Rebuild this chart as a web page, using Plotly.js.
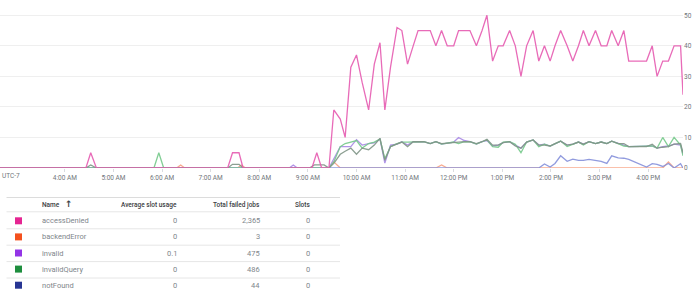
<!DOCTYPE html>
<html><head><meta charset="utf-8">
<script src="https://cdn.plot.ly/plotly-3.0.1.min.js"></script>
<style>html,body{margin:0;padding:0;background:#fff;}#chart{width:700px;height:295px;}</style>
</head><body><div id="chart"></div>
<script>
const DAY = '2024-01-01 ';

// shared sampling times for the busy part of the day (local time, UTC-7)
const gridTimes = ['9:26','9:32','9:40','9:46','9:53','10:00','10:07','10:15','10:22','10:29','10:35','10:42','10:50','10:56','11:03','11:10','11:16','11:23','11:31','11:38','11:45','11:52','12:00','12:06','12:13','12:20','12:28','12:35','12:41','12:48','12:55','13:01','13:09','13:16','13:23','13:30','13:38','13:45','13:52','13:59','14:05','14:12','14:20','14:27','14:34','14:40','14:47','14:55','15:02','15:09','15:15','15:23','15:30','15:36','15:43','15:50','15:58','16:05','16:11','16:18','16:25','16:32','16:40','16:43'];

// accessDenied
const accessDeniedEarlyT = ['2:40','4:26','4:32','4:39','7:21','7:27','7:35','7:40','9:05','9:11','9:17'];
const accessDeniedEarlyV = [0,0,5,0,0,5,5,0,0,5,0];
const accessDeniedLate = [0,19,16,10,33,37,28,19,34,41,19,33,46,45,34,40,45,45,45,40,45,40,40,45,45,45,40,45,50,35,40,40,45,40,30,40,45,35,40,35,40,45,40,35,40,45,40,45,40,40,45,40,45,35,35,35,35,40,30,35,35,40,40,24];

// backendError
const backendErrorEarlyT = ['2:40','6:18','6:23','6:28','7:33','7:38','7:43'];
const backendErrorEarlyV = [0,0,1,0,0,1,0];
const backendErrorLate = [0,2,0,0,0,0,0,0,0,0,0,0,0,0,0,0,0,0,0,0,1,0,0,0,0,0,0,0,0,0,0,0,0,0,0,0,0,0,0,0,0,0,0,0,0,0,0,0,0,0,0,0,0,0,0,0,0,0,0,0,2,0,0,0];

// invalid
const invalidEarlyT = ['2:40','8:37','8:42','8:47'];
const invalidEarlyV = [0,0,1,0];
const invalidLate = [0,3,7,7,7,9.3,7.5,8,8.2,9.5,1.6,7.5,7.8,8.6,7.5,8.6,8.6,8.6,8,8.6,7.8,8.2,8.5,10,9,8.6,7.8,8.6,9,7.2,7.5,8.3,8.6,7.5,6.5,8.5,9.2,7.5,7.8,7.2,8,8.8,7.5,7.8,8.5,7.8,8.6,8,8.5,8,8.8,8,7.5,7,7,7,7,7.2,6.5,7,7.2,7.8,7.5,4.5];

// invalidQuery
const invalidQueryEarlyT = ['2:40','5:50','5:56','6:02'];
const invalidQueryEarlyV = [0,0,5,0];
const invalidQueryLate = [0,2,7,8,8.5,9,6.5,8,8.5,9.5,3,7,8,8.5,8.5,8.6,8.6,8.6,8,8.6,7.8,8.2,8.5,8,8.6,8.6,7.8,8.6,9.2,7,6.8,8.5,8.6,7.8,5,8.5,9.2,7,7.8,7.2,8,8.8,7,7.8,8.5,7.5,8.6,8,8.5,8,8.8,8,7.2,7,7,7,7,7.2,6.5,10,7,10,7.5,4];

// notFound
const notFoundEarlyT = ['2:40'];
const notFoundEarlyV = [0];
const notFoundLate = [0,0,0,0,0,0,0,0,0,0,0,0,0,0,0,0,0,0,0,0,0,0,0,0,0,0,0,0,0,0,0,0,0,0,0,0,0,0,1.3,0.3,1.5,4,2.2,2.9,2.5,2.5,2.8,2.5,2.2,1.5,4,3.3,3.2,2.8,2,1,0.3,1.4,1.2,0.5,1.5,0,1.4,0];

// other (grey, row not visible in table)
const otherEarlyT = ['2:40','4:26','4:32','4:39','7:21','7:27','7:35','7:40','9:02','9:08','9:20','9:26'];
const otherEarlyV = [0,0,1,0,0,1.2,1.2,0,0,1,1,0];
const otherLate = [0,1.5,4.5,5.5,6.5,4.5,6.5,6,7.5,9.7,2.5,7,8,8.5,7,8.6,8.6,8.6,8,8.6,8,8.2,8.5,8.5,8.6,8.6,8,8.6,9.4,7.5,7.5,8.3,8.6,7.2,6.5,8.5,9.2,7.5,7.5,7.2,8,8.8,7.5,7.8,8.5,7.8,8.6,8,8.5,8,8.8,8,8,7,7,7,7,7.8,6.5,6.8,7,7.8,8,5];

// axis ticks
const hourTicks = ['4:00','5:00','6:00','7:00','8:00','9:00','10:00','11:00','12:00','13:00','14:00','15:00','16:00'];
const hourLabels = ['4:00 AM','5:00 AM','6:00 AM','7:00 AM','8:00 AM','9:00 AM','10:00 AM','11:00 AM','12:00 PM','1:00 PM','2:00 PM','3:00 PM','4:00 PM'];
const yTicks = [0,10,20,30,40,50];
const timezoneLabel = 'UTC-7';

// table
const tableHeaders = ['Name', 'Average slot usage', 'Total failed jobs', 'Slots'];
const tableNames = ['accessDenied','backendError','invalid','invalidQuery','notFound'];
const tableAvgSlot = ['0','0','0.1','0','0'];
const tableFailed = ['2,365','3','475','486','44'];
const tableSlots = ['0','0','0','0','0'];

// styles
const swatchColors = ['#e52592','#f4511e','#9334e6','#1e8e3e','#283593'];
const lineColors = {accessDenied:'#e55bb0', backendError:'#f7a284', invalid:'#a888e6', invalidQuery:'#74c98a', notFound:'#8590da', other:'#7f9586'};

function toDate(hm){ const p = hm.split(':'); return DAY + (p[0].length<2?'0':'') + p[0] + ':' + p[1] + ':00'; }
function series(name, eT, eV, late, color){
  return {type:'scatter', mode:'lines', name:name,
    x: eT.concat(gridTimes).map(toDate), y: eV.concat(late),
    line:{color:color, width:1.3, shape:'linear'}, opacity:0.9, hoverinfo:'skip', showlegend:false};
}

const traces = [
  series('backendError', backendErrorEarlyT, backendErrorEarlyV, backendErrorLate, lineColors.backendError),
  series('notFound', notFoundEarlyT, notFoundEarlyV, notFoundLate, lineColors.notFound),
  series('invalid', invalidEarlyT, invalidEarlyV, invalidLate, lineColors.invalid),
  series('invalidQuery', invalidQueryEarlyT, invalidQueryEarlyV, invalidQueryLate, lineColors.invalidQuery),
  series('other', otherEarlyT, otherEarlyV, otherLate, lineColors.other),
  series('accessDenied', accessDeniedEarlyT, accessDeniedEarlyV, accessDeniedLate, lineColors.accessDenied)
];

// layout geometry (pixels)
const W = 700, H = 295, ML = 0, MR = 17, MT = 0, MB = 127;
const PW = W - ML - MR, PH = H - MT - MB;
const xp = px => (px - ML) / PW;
const yp = py => (MT + PH - py) / PH;

const shapes = [];
const annotations = [];
const FONT = 'Roboto, Arial, sans-serif';

annotations.push({xref:'paper', yref:'paper', x:xp(11), y:yp(175.5), text:timezoneLabel, showarrow:false,
  xanchor:'center', yanchor:'middle', font:{family:FONT, size:6.5, color:'#70757a'}});

// table lines
const lineYs = [197.5, 211.8, 228.8, 245.2, 261.6, 278];
lineYs.forEach((y,i) => shapes.push({type:'line', xref:'paper', yref:'paper', x0:xp(6.5), x1:xp(340), y0:yp(y), y1:yp(y),
  line:{color: i===0 ? '#dcdcdc' : '#e6e6e6', width:1}}));

// header
const headerY = 205;
const colRight = [null, 178.5, 261.5, 311.5];
annotations.push({xref:'paper', yref:'paper', x:xp(40), y:yp(headerY), text:tableHeaders[0], showarrow:false,
  xanchor:'left', yanchor:'middle', font:{family:FONT, size:6.5, color:'#3c4043', weight:500}});
annotations.push({xref:'paper', yref:'paper', x:xp(63), y:yp(headerY-0.5), text:'<b>↑</b>', showarrow:false,
  xanchor:'left', yanchor:'middle', font:{family:'DejaVu Sans, sans-serif', size:9, color:'#3c4043'}});
for (let c=1;c<4;c++){
  annotations.push({xref:'paper', yref:'paper', x:xp(colRight[c]), y:yp(headerY), text:tableHeaders[c], showarrow:false,
    xanchor:'right', yanchor:'middle', font:{family:FONT, size:6.5, color:'#3c4043', weight:500}});
}

// rows
tableNames.forEach((nm,i) => {
  const cy = 220.8 + i*16.1;
  shapes.push({type:'rect', xref:'paper', yref:'paper', x0:xp(15), x1:xp(22), y0:yp(cy-3.5), y1:yp(cy+3.5),
    fillcolor:swatchColors[i], line:{width:0}});
  const f = {family:FONT, size:7.5, color:'#80868b'};
  annotations.push({xref:'paper', yref:'paper', x:xp(40), y:yp(cy), text:nm, showarrow:false, xanchor:'left', yanchor:'middle', font:f});
  annotations.push({xref:'paper', yref:'paper', x:xp(colRight[1]), y:yp(cy), text:tableAvgSlot[i], showarrow:false, xanchor:'right', yanchor:'middle', font:f});
  annotations.push({xref:'paper', yref:'paper', x:xp(colRight[2]), y:yp(cy), text:tableFailed[i], showarrow:false, xanchor:'right', yanchor:'middle', font:f});
  annotations.push({xref:'paper', yref:'paper', x:xp(colRight[3]), y:yp(cy), text:tableSlots[i], showarrow:false, xanchor:'right', yanchor:'middle', font:f});
});

const layout = {
  width:W, height:H, margin:{l:ML, r:MR, t:MT, b:MB, pad:0},
  paper_bgcolor:'#fff', plot_bgcolor:'#fff', showlegend:false,
  xaxis:{type:'date', range:[toDate('2:40'), toDate('16:43')], tickvals:hourTicks.map(toDate), ticktext:hourLabels,
    ticks:'outside', ticklen:3, tickcolor:'#dadce0', showgrid:false, zeroline:false, showline:false,
    tickfont:{family:FONT, size:6.5, color:'#70757a'}, fixedrange:true},
  yaxis:{side:'right', range:[0,55], tickvals:yTicks, ticktext:yTicks.map(String), showgrid:true, gridcolor:'#efefef', gridwidth:1,
    zeroline:false, ticks:'', showline:false, tickfont:{family:FONT, size:6.5, color:'#70757a'}, fixedrange:true},
  shapes:shapes, annotations:annotations
};

Plotly.newPlot('chart', traces, layout, {displayModeBar:false, staticPlot:true});
</script>
</body></html>
